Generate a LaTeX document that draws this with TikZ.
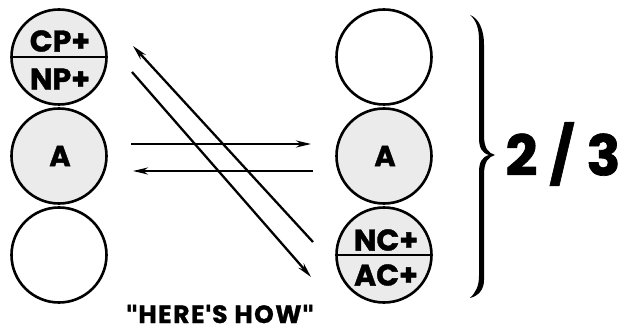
\documentclass[tikz,border=0pt]{standalone}
\usepackage{fontspec}
\setmainfont{Poppins}[BoldFeatures={FakeBold=1.2}]
\newfontfamily\dvq{DejaVu Sans}[FakeBold=1.5]
\usetikzlibrary{arrows.meta}
\definecolor{speck}{HTML}{EBEBEB}
\tikzset{
  ball/.style={circle, draw=black, line width=2.6pt, minimum size=95pt, inner sep=0pt},
  filled/.style={fill=speck},
  lbl/.style={font=\bfseries\fontsize{30}{30}\selectfont, inner sep=0pt},
  lblA/.style={font=\bfseries\fontsize{29}{29}\selectfont, inner sep=0pt},
  arr/.style={line width=2.3pt, -{Stealth[length=15pt,width=7pt]}},
}
\begin{document}
\begin{tikzpicture}[x=1pt,y=-1pt]
\useasboundingbox (0,0) rectangle (631,331);
% left column
\node[ball,filled] (l1) at (59,57) {};
\node[ball,filled] (l2) at (59,156) {};
\node[ball] (l3) at (59,255) {};
% right column
\node[ball] (r1) at (384,57) {};
\node[ball,filled] (r2) at (384,156) {};
\node[ball,filled] (r3) at (384,255) {};
% dividers
\draw[line width=2pt] (l1.west) -- (l1.east);
\draw[line width=2pt] (r3.west) -- (r3.east);
% labels
\node[lbl] (cp) at (60,41) {CP+};
\node[lbl] (np) at (60,79) {NP+};
\node[lblA] (la) at (60,156) {A};
\node[lblA] (ra) at (385,156) {A};
\node[lbl] (nc) at (386,240) {NC+};
\node[lbl] (ac) at (386,275) {AC+};
% arrow end points
\coordinate (d1s) at (313,242);
\coordinate (d1e) at (133,46);
\coordinate (d2s) at (132,72);
\coordinate (d2e) at (311,277);
\coordinate (h1s) at (131,144);
\coordinate (h1e) at (311,144);
\coordinate (h2s) at (313,171);
\coordinate (h2e) at (133,171);
\draw[arr] (d1s) -- (d1e);
\draw[arr] (d2s) -- (d2e);
\draw[arr] (h1s) -- (h1e);
\draw[arr] (h2s) -- (h2e);
% brace
\fill (470,15) .. controls (478,18) and (484,28) .. (484,45) -- (484,135)
  .. controls (484,148) and (488,153) .. (495,155)
  .. controls (488,157) and (484,162) .. (484,175) -- (484,280)
  .. controls (484,290) and (478,296) .. (470,298)
  .. controls (476,292) and (479,286) .. (479,276) -- (479,172)
  .. controls (479,162) and (482,157) .. (489,155)
  .. controls (482,153) and (479,148) .. (479,138) -- (479,40)
  .. controls (479,28) and (476,20) .. (470,15) -- cycle;
\node[font=\bfseries\fontsize{56}{56}\selectfont, inner sep=0pt] (frac) at (563,154) {2 / 3};
\node[font=\bfseries\fontsize{25}{25}\selectfont\addfontfeature{LetterSpace=6}, inner sep=0pt, anchor=base] (how) at (220,323) {{\dvq\symbol{34}}HERE{\dvq\symbol{39}}S HOW{\dvq\symbol{34}}};
\end{tikzpicture}
\end{document}
